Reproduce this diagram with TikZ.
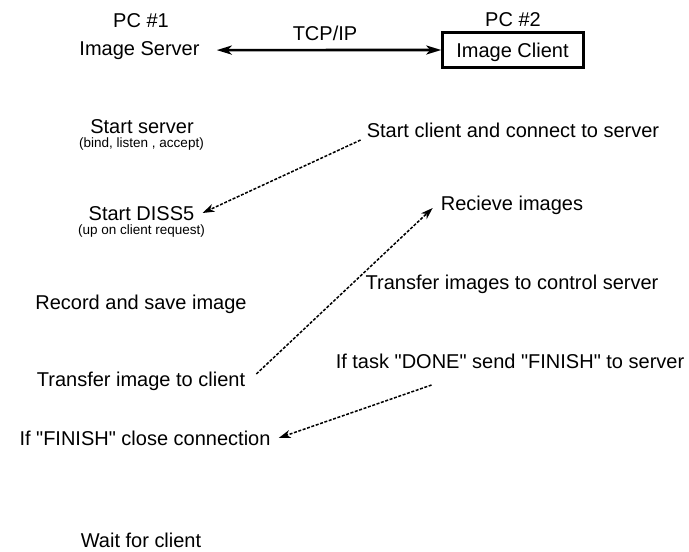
\documentclass[tikz,border=0pt]{standalone}
\usepackage{fontspec}
\setmainfont{Liberation Sans}
\usetikzlibrary{arrows.meta}
\begin{document}
\begin{tikzpicture}[x=1pt,y=-1pt,
  lbl/.style={inner sep=0pt,anchor=base,font=\fontsize{20}{24}\selectfont},
  sub/.style={inner sep=0pt,anchor=base,font=\fontsize{13.5}{16}\selectfont},
  link/.style={line width=1.5pt,dash pattern=on 3pt off 1.6pt,-{Stealth[length=12pt,width=8pt,inset=3.5pt]}},
  main/.style={line width=2.6pt,{Stealth[length=15pt,width=9pt,inset=4pt]}-{Stealth[length=15pt,width=9pt,inset=4pt]}}]
\useasboundingbox (0,0) rectangle (689,552);
\node[lbl] (pc1) at (141,27) {PC \#1};
\node[lbl] (srv) at (139.5,55) {Image Server};
\node[lbl] (tcp) at (325,40) {TCP/IP};
\node[lbl] (pc2) at (513,26) {PC \#2};
\node[draw,line width=2.5pt,minimum width=141pt,minimum height=35pt,inner sep=0pt] (cli) at (513,50) {};
\node[lbl] (clit) at (512.5,57) {Image Client};
\draw[main] ([xshift=17pt]srv.east) -- (cli.west);
\node[lbl] (ss) at (142,133) {Start server};
\node[sub] (ssb) at (141.5,147) {(bind, listen , accept)};
\node[lbl] (sc) at (513,137) {Start client and connect to server};
\node[lbl] (sd) at (141.5,220) {Start DISS5};
\node[sub] (sdb) at (141.5,234) {(up on client request)};
\node[lbl] (ri) at (512,210) {Recieve images};
\node[lbl] (tc) at (512,289) {Transfer images to control server};
\node[lbl] (rs) at (141,309) {Record and save image};
\node[lbl] (ti) at (141,386) {Transfer image to client};
\node[lbl] (td) at (510,368) {If task \textquotedbl DONE\textquotedbl\ send \textquotedbl FINISH\textquotedbl\ to server};
\node[lbl] (fc) at (145,445) {If \textquotedbl FINISH\textquotedbl\ close connection};
\node[lbl] (wc) at (141,547) {Wait for client};
\draw[link] ([xshift=-6pt,yshift=-3pt]sc.base west) -- ([xshift=8pt,yshift=7pt]sd.base east);
\draw[link] ([xshift=11pt,yshift=12pt]ti.base east) -- ([xshift=-8pt,yshift=2pt]ri.base west);
\draw[link] ([xshift=96pt,yshift=-17pt]td.base west) -- ([xshift=8pt,yshift=7pt]fc.base east);
\end{tikzpicture}
\end{document}
